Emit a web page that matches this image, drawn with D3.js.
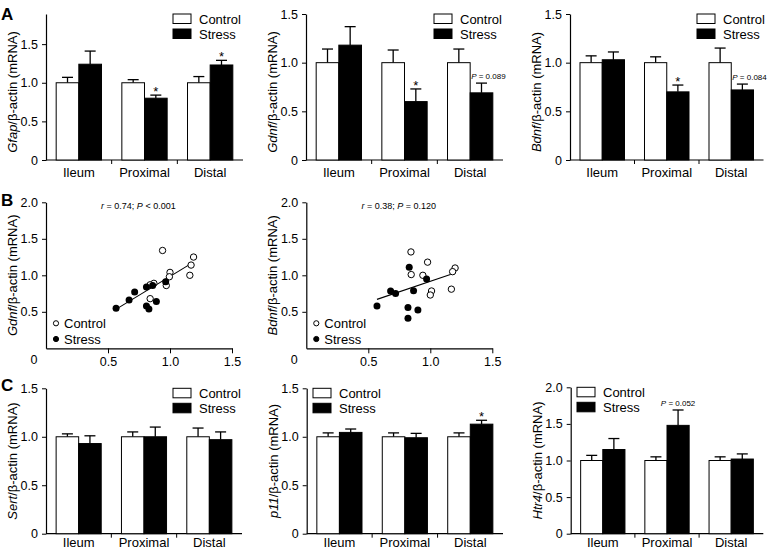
<!DOCTYPE html>
<html>
<head>
<meta charset="utf-8">
<script src="https://cdn.jsdelivr.net/npm/d3@7"></script>
<style>
body { margin: 0; background: #fff; }
text { font-family: "Liberation Sans", Arial, sans-serif; fill: #000; }
</style>
</head>
<body>
<svg id="fig" width="767" height="550"></svg>
<script>
var regions = ["Ileum", "Proximal", "Distal"];
var groups = ["Control", "Stress"];

// panel A - bar means and SEM (up only)
var gfapCtrl = [1.0, 1.0, 1.0], gfapCtrlErr = [0.07, 0.04, 0.08];
var gfapStress = [1.24, 0.80, 1.23], gfapStressErr = [0.17, 0.04, 0.06];
var gfapMarks = ["", "*", "*"];

var gdnfCtrl = [1.0, 1.0, 1.0], gdnfCtrlErr = [0.14, 0.13, 0.14];
var gdnfStress = [1.18, 0.60, 0.69], gdnfStressErr = [0.19, 0.13, 0.10];
var gdnfMarks = ["", "*", "P = 0.089"];

var bdnfCtrl = [1.0, 1.0, 1.0], bdnfCtrlErr = [0.07, 0.06, 0.15];
var bdnfStress = [1.03, 0.70, 0.72], bdnfStressErr = [0.08, 0.07, 0.06];
var bdnfMarks = ["", "*", "P = 0.084"];

// panel B - scatter (x = Gfap)
var b1CtrlX = [0.94, 1.19, 1.17, 1.16, 1.00, 0.995, 0.97, 0.87, 0.84, 0.84];
var b1CtrlY = [1.34, 1.25, 1.14, 1.00, 1.04, 0.98, 0.86, 0.89, 0.87, 0.68];
var b1StressX = [0.565, 0.67, 0.715, 0.81, 0.86, 0.965, 0.81, 0.83, 0.89];
var b1StressY = [0.55, 0.66, 0.77, 0.84, 0.86, 0.91, 0.58, 0.54, 0.64];
var b1FitX = [0.56, 1.16], b1FitY = [0.53, 1.15];

var b2CtrlX = [0.844, 0.978, 0.846, 0.94, 1.20, 1.18, 1.01, 1.00, 1.17];
var b2CtrlY = [1.32, 1.18, 1.01, 1.00, 1.10, 1.05, 0.785, 0.73, 0.81];
var b2StressX = [0.57, 0.68, 0.72, 0.83, 0.97, 0.865, 0.82, 0.90, 0.82];
var b2StressY = [0.58, 0.785, 0.75, 1.11, 0.95, 0.79, 0.56, 0.525, 0.41];
var b2FitX = [0.57, 1.18], b2FitY = [0.67, 1.02];

// panel C
var sertCtrl = [1.0, 1.0, 1.0], sertCtrlErr = [0.03, 0.05, 0.09];
var sertStress = [0.93, 1.00, 0.97], sertStressErr = [0.08, 0.10, 0.08];

var p11Ctrl = [1.0, 1.0, 1.0], p11CtrlErr = [0.04, 0.04, 0.04];
var p11Stress = [1.045, 0.99, 1.13], p11StressErr = [0.035, 0.045, 0.04];
var p11Marks = ["", "", "*"];

var htr4Ctrl = [1.0, 1.0, 1.0], htr4CtrlErr = [0.07, 0.05, 0.05];
var htr4Stress = [1.15, 1.48, 1.02], htr4StressErr = [0.15, 0.21, 0.07];
var htr4Marks = ["", "P = 0.052", ""];

var ticks15 = [0, 0.5, 1.0, 1.5];
var ticks20 = [0, 0.5, 1.0, 1.5, 2.0];

var svg = d3.select("#fig");
var fmt = function(d) { return d === 0 ? "0" : d3.format(".1f")(d); };

var yLabel = function(x, yc, gene) {
  var t = svg.append("text")
    .attr("transform", "translate(" + x + "," + yc + ") rotate(-90)")
    .attr("text-anchor", "middle")
    .style("font-size", "13px");
  t.append("tspan").style("font-style", "italic").text(gene);
  t.append("tspan").text("/\u03b2-actin (mRNA)");
};

var pText = function(sel, str) {
  // italic P, rest normal
  sel.append("tspan").style("font-style", "italic").text(str.slice(0, 1));
  sel.append("tspan").text(str.slice(1));
};

function barPanel(o) {
  var g = svg.append("g");
  var y = d3.scaleLinear().domain([0, o.yMax]).range([o.y0, o.yTop]);
  var x0 = d3.scaleBand().domain(regions).range([o.x, o.x + o.w])
    .paddingInner(0.31).paddingOuter(0.155);
  var x1 = d3.scaleBand().domain(groups).range([0, x0.bandwidth()]);

  var yAx = g.append("g").attr("transform", "translate(" + o.x + ",0)")
    .call(d3.axisLeft(y).tickValues(o.ticks).tickSize(4).tickSizeOuter(0).tickPadding(4).tickFormat(fmt));
  yAx.selectAll("text").style("font-size", "12.5px").attr("font-family", null);
  yAx.select(".domain").attr("stroke-width", 1.2);

  g.append("line").attr("x1", o.x).attr("x2", o.x + o.w)
    .attr("y1", o.y0).attr("y2", o.y0).attr("stroke", "#000").attr("stroke-width", 1.2);
  g.selectAll(".bnd").data(regions.slice(1)).enter().append("line")
    .attr("x1", function(r) { return x0(r) - x0.step() * x0.paddingInner() / 2; })
    .attr("x2", function(r) { return x0(r) - x0.step() * x0.paddingInner() / 2; })
    .attr("y1", o.y0).attr("y2", o.y0 + 4).attr("stroke", "#000");
  g.selectAll(".cat").data(regions).enter().append("text")
    .attr("x", function(r) { return x0(r) + x0.bandwidth() / 2; })
    .attr("y", o.y0 + (o.catDy || 17))
    .attr("text-anchor", "middle").style("font-size", "13px")
    .text(function(r) { return r; });

  var rows = [];
  regions.forEach(function(r, i) {
    rows.push({r: r, grp: "Control", v: o.ctrl[i], e: o.ctrlErr[i], mark: ""});
    rows.push({r: r, grp: "Stress", v: o.stress[i], e: o.stressErr[i], mark: o.marks ? o.marks[i] : ""});
  });

  var cx = function(d) { return x0(d.r) + x1(d.grp) + x1.bandwidth() / 2; };

  g.selectAll(".err").data(rows).enter().append("line")
    .attr("x1", cx).attr("x2", cx)
    .attr("y1", function(d) { return y(d.v); })
    .attr("y2", function(d) { return y(d.v + d.e); })
    .attr("stroke", "#000").attr("stroke-width", 1.3);
  g.selectAll(".cap").data(rows).enter().append("line")
    .attr("x1", function(d) { return cx(d) - 5.5; })
    .attr("x2", function(d) { return cx(d) + 5.5; })
    .attr("y1", function(d) { return y(d.v + d.e); })
    .attr("y2", function(d) { return y(d.v + d.e); })
    .attr("stroke", "#000").attr("stroke-width", 1.3);

  g.selectAll(".bar").data(rows).enter().append("rect")
    .attr("x", function(d) { return x0(d.r) + x1(d.grp); })
    .attr("y", function(d) { return y(d.v); })
    .attr("width", x1.bandwidth())
    .attr("height", function(d) { return o.y0 - y(d.v); })
    .attr("fill", function(d) { return d.grp === "Control" ? "#fff" : "#000"; })
    .attr("stroke", "#000").attr("stroke-width", 1);

  rows.filter(function(d) { return d.mark === "*"; }).forEach(function(d) {
    g.append("text").attr("x", cx(d)).attr("y", y(d.v + d.e) + 1)
      .attr("text-anchor", "middle").style("font-size", "13px").text("*");
  });
  rows.filter(function(d) { return d.mark && d.mark !== "*"; }).forEach(function(d) {
    var t = g.append("text").style("font-size", "8px")
      .attr("y", y(d.v + d.e) - 4);
    if (o.pCenter) t.attr("x", cx(d)).attr("text-anchor", "middle");
    else t.attr("x", x0(d.r) + x1(d.grp) + 1);
    pText(t, d.mark);
  });

  // legend
  groups.forEach(function(gr, i) {
    g.append("rect").attr("x", o.x + o.legX).attr("y", o.yTop + i * 15)
      .attr("width", 18).attr("height", 9.5)
      .attr("fill", gr === "Control" ? "#fff" : "#000").attr("stroke", "#000");
    g.append("text").attr("x", o.x + o.legX + 26).attr("y", o.yTop + i * 15 + 9.5)
      .style("font-size", "13px").text(gr);
  });

  yLabel(o.x - 29, (o.y0 + o.yTop) / 2 + (o.labShift || 0), o.gene);
}

function scatterPanel(o) {
  var g = svg.append("g");
  var x = d3.scaleLinear().domain([0, 1.5]).range([o.x, o.x + 186]);
  var y = d3.scaleLinear().domain([0, 2]).range([o.y0, o.yTop]);

  var yAx = g.append("g").attr("transform", "translate(" + o.x + ",0)")
    .call(d3.axisLeft(y).tickValues([0.5, 1.0, 1.5, 2.0]).tickSize(4).tickSizeOuter(0).tickPadding(4).tickFormat(fmt));
  yAx.selectAll("text").style("font-size", "12.5px").attr("font-family", null);
  yAx.select(".domain").attr("stroke-width", 1.2);
  var xAx = g.append("g").attr("transform", "translate(0," + o.y0 + ")")
    .call(d3.axisBottom(x).tickValues([0.5, 1.0, 1.5]).tickSize(5).tickSizeOuter(0).tickPadding(4).tickFormat(fmt));
  xAx.selectAll("text").style("font-size", "12.5px").attr("font-family", null);
  xAx.select(".domain").attr("stroke-width", 1.2);
  g.append("text").attr("x", o.x - 12).attr("y", o.y0 + 16)
    .attr("text-anchor", "middle").style("font-size", "12.5px").text("0");

  g.append("line")
    .attr("x1", x(o.fitX[0])).attr("y1", y(o.fitY[0]))
    .attr("x2", x(o.fitX[1])).attr("y2", y(o.fitY[1]))
    .attr("stroke", "#000").attr("stroke-width", 1.1);

  g.selectAll(".pc").data(o.ctrlX).enter().append("circle")
    .attr("cx", function(d) { return x(d); })
    .attr("cy", function(d, i) { return y(o.ctrlY[i]); })
    .attr("r", 3.2).attr("fill", "#fff").attr("stroke", "#000").attr("stroke-width", 1);
  g.selectAll(".ps").data(o.stressX).enter().append("circle")
    .attr("cx", function(d) { return x(d); })
    .attr("cy", function(d, i) { return y(o.stressY[i]); })
    .attr("r", 3.5).attr("fill", "#000");

  var t = g.append("text").attr("x", x(0.745)).attr("y", o.yTop + 7)
    .attr("text-anchor", "middle").style("font-size", "9px");
  t.append("tspan").style("font-style", "italic").text("r");
  t.append("tspan").text(" = " + o.r + "; ");
  t.append("tspan").style("font-style", "italic").text("P");
  t.append("tspan").text(" " + o.p);

  groups.forEach(function(gr, i) {
    var cy = o.y0 - 25 + i * 15.7;
    g.append("circle").attr("cx", o.x + 10).attr("cy", cy).attr("r", 2.6)
      .attr("fill", gr === "Control" ? "#fff" : "#000").attr("stroke", "#000");
    g.append("text").attr("x", o.x + 18).attr("y", cy + 4.5)
      .style("font-size", "13px").text(gr);
  });

  yLabel(o.x - 29, (o.y0 + o.yTop) / 2, o.gene);
}

barPanel({x: 46, w: 197, y0: 160, yTop: 14, yMax: 1.89, ticks: ticks15, gene: "Gfap", legX: 127, labShift: 5,
  ctrl: gfapCtrl, ctrlErr: gfapCtrlErr, stress: gfapStress, stressErr: gfapStressErr, marks: gfapMarks});
barPanel({x: 306, w: 197, y0: 160, yTop: 14, yMax: 1.5, ticks: ticks15, gene: "Gdnf", legX: 128, labShift: 5,
  ctrl: gdnfCtrl, ctrlErr: gdnfCtrlErr, stress: gdnfStress, stressErr: gdnfStressErr, marks: gdnfMarks});
barPanel({x: 570, w: 193.5, y0: 160, yTop: 14, yMax: 1.5, ticks: ticks15, gene: "Bdnf", legX: 127, labShift: 5,
  ctrl: bdnfCtrl, ctrlErr: bdnfCtrlErr, stress: bdnfStress, stressErr: bdnfStressErr, marks: bdnfMarks});

scatterPanel({x: 46, y0: 348.3, yTop: 202.3, gene: "Gdnf", r: "0.74", p: "< 0.001",
  ctrlX: b1CtrlX, ctrlY: b1CtrlY, stressX: b1StressX, stressY: b1StressY, fitX: b1FitX, fitY: b1FitY});
scatterPanel({x: 306.3, y0: 348.3, yTop: 202.3, gene: "Bdnf", r: "0.38", p: "= 0.120",
  ctrlX: b2CtrlX, ctrlY: b2CtrlY, stressX: b2StressX, stressY: b2StressY, fitX: b2FitX, fitY: b2FitY});

barPanel({x: 46, w: 196, y0: 533.7, yTop: 388.3, yMax: 1.5, ticks: ticks15, gene: "Sert", legX: 127, catDy: 13.5,
  ctrl: sertCtrl, ctrlErr: sertCtrlErr, stress: sertStress, stressErr: sertStressErr});
barPanel({x: 306.7, w: 196.3, y0: 533.7, yTop: 388.3, yMax: 1.5, ticks: ticks15, gene: "p11", legX: 6.3, catDy: 13.5,
  ctrl: p11Ctrl, ctrlErr: p11CtrlErr, stress: p11Stress, stressErr: p11StressErr, marks: p11Marks});
barPanel({x: 570.7, w: 192.6, y0: 533.7, yTop: 387.3, yMax: 2.0, ticks: ticks20, gene: "Htr4", legX: 6.3, pCenter: true, catDy: 13.5,
  ctrl: htr4Ctrl, ctrlErr: htr4CtrlErr, stress: htr4Stress, stressErr: htr4StressErr, marks: htr4Marks});

// panel letters
[["A", 20], ["B", 206], ["C", 391]].forEach(function(p) {
  svg.append("text").attr("x", 1).attr("y", p[1])
    .style("font-size", "17px").style("font-weight", "bold").text(p[0]);
});
</script>
</body>
</html>
